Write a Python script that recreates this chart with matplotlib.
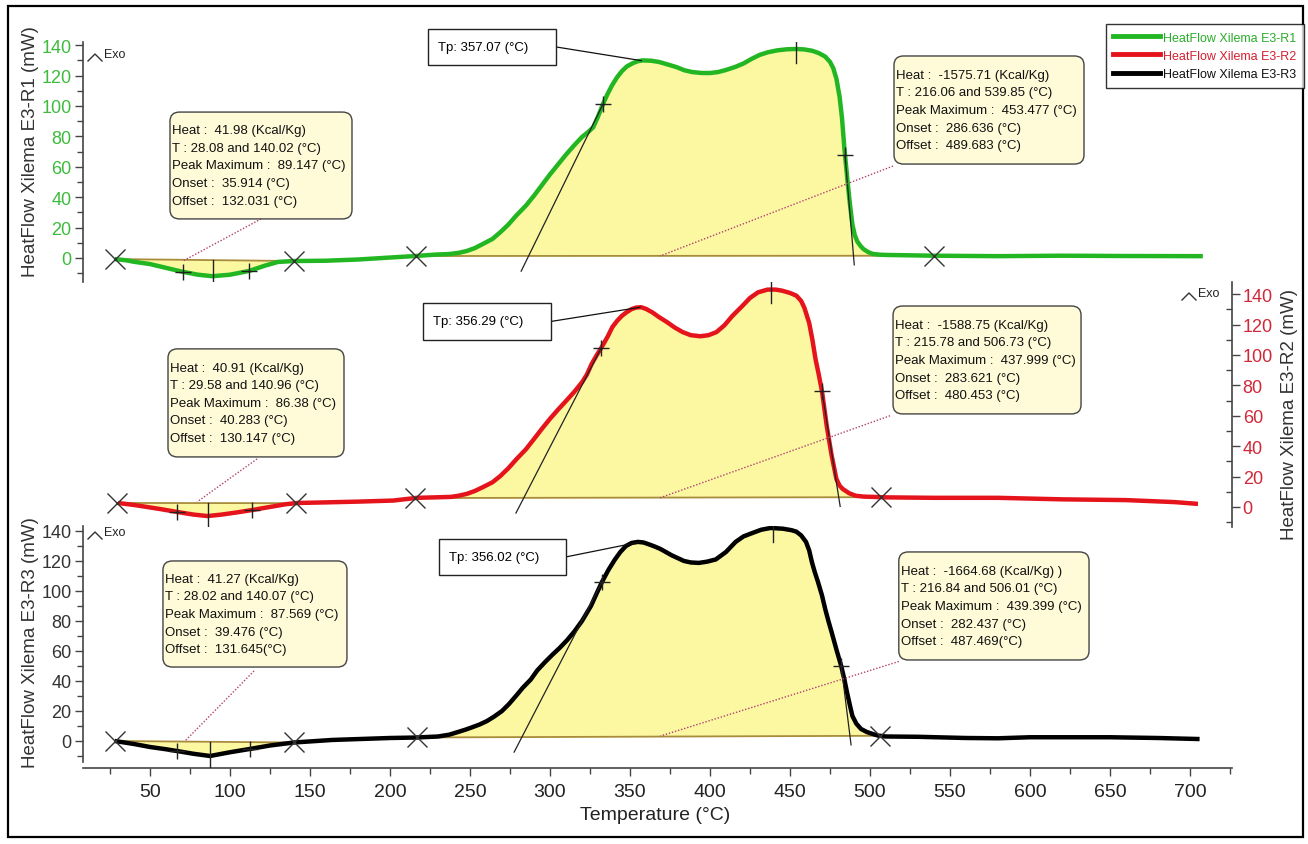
import numpy as np
import matplotlib
matplotlib.use('Agg')
import matplotlib.pyplot as plt
from matplotlib.patches import FancyBboxPatch, Rectangle
from matplotlib.lines import Line2D
from matplotlib.ticker import MultipleLocator

plt.rcParams['font.family'] = ['Liberation Sans Narrow', 'Liberation Sans', 'DejaVu Sans']

# heat flow curves (Temperature in C, HeatFlow in mW)
temp_r1 = [28, 35, 40, 50, 60, 70, 80, 89, 100, 112,
           122, 130, 140, 160, 180, 200, 216, 228, 237, 243,
           248, 253, 258, 264, 269, 274, 279, 285, 290, 295,
           300, 305, 310, 315, 320, 324, 327, 330, 333, 336,
           339, 342, 345, 348, 352, 355, 358, 363, 368, 373,
           379, 384, 389, 395, 400, 405, 410, 416, 421, 426,
           431, 436, 442, 448, 454, 459, 464, 468, 472, 475,
           477, 479, 481, 482.5, 484, 486, 487.5, 489, 490.5, 492,
           494, 496, 499, 502, 506, 510, 540, 580, 620, 660,
           708]
flow_r1 = [-0.7, -1.5, -2.5, -4, -6.5, -9, -11, -12, -11, -8.5,
           -5, -2.6, -2, -1.8, -1, 0.3, 1.3, 2.2, 2.6, 3.4,
           4.6, 6.5, 9.2, 12.5, 17, 22, 28, 34.5, 41, 48,
           55, 61.5, 68, 74, 79.6, 83, 86, 93, 101, 108,
           114, 119, 123, 126, 128.3, 129.5, 130, 129.8, 129, 127.5,
           125.6, 123.5, 122.3, 121.7, 121.7, 122.3, 123.7, 125.8, 128, 131,
           133.6, 135.3, 136.6, 137.3, 137.5, 137.2, 136.3, 134.8, 132.5, 129,
           125, 118, 106, 92, 72, 50, 35, 22, 15, 11,
           8, 5.8, 3.8, 2.6, 2.2, 2.0, 1.5, 1.2, 1.5, 1.3,
           1.2]

temp_r2 = [30, 40, 48, 57, 67, 77, 86, 95, 105, 114,
           125, 135, 142, 160, 180, 202, 217, 228, 238, 243,
           248, 253, 258, 264, 269, 274, 279, 285, 290, 295,
           300, 305, 310, 315, 320, 323, 326, 329, 332, 336,
           339, 342, 345, 348, 351, 354, 357, 360, 364, 368,
           373, 378, 383, 388, 394, 399, 404, 409, 414, 420,
           425, 430, 436, 441, 445, 450, 454, 457, 459, 462,
           464, 466, 468, 470, 473, 476, 479, 481, 483, 487,
           491, 496, 502, 510, 540, 580, 620, 660, 690, 705]
flow_r2 = [2.6, 1.3, 0, -1.5, -3.3, -5, -6, -5, -3.5, -2,
           0, 1.8, 2.6, 3, 3.5, 4.2, 6, 6.3, 6.6, 7.4,
           8.6, 10.5, 13, 16.2, 20.4, 25.5, 31.4, 38, 44.7, 51.5,
           58, 64, 69.7, 75.5, 82, 87, 94, 99.5, 104.6, 112,
           118.4, 122.5, 125.8, 128.2, 130.2, 131.2, 131.4, 130.3, 128, 125,
           121.7, 118, 115, 113, 112.3, 113, 115, 119.5, 125.7, 132,
           137.5, 141.2, 143, 143, 142.3, 140.8, 139, 135.5, 131, 121,
           110, 97, 87, 76, 53, 34, 18.4, 14, 11.8, 9,
           7.4, 6.8, 6.6, 6.3, 6, 6, 5, 4.5, 3.2, 2]

temp_r3 = [28, 40, 50, 60, 67, 77, 87.5, 100, 112.5, 125,
           140, 164, 200, 216, 230, 237, 242.5, 247, 251, 256,
           260.6, 265, 270, 274.5, 278.7, 283, 288, 292, 297, 301.5,
           306, 310.5, 315, 320, 325.6, 329, 332.5, 336.5, 340.6, 344,
           347.5, 351, 355, 358.5, 362, 365.5, 369, 376, 383.7, 388,
           393, 398, 403.6, 410, 416, 421, 427.4, 432, 438, 445.6,
           451, 454, 457, 460, 462, 463.75, 465.5, 467.5, 470, 472,
           474, 476, 479, 482, 484, 485.6, 487.5, 489, 491.5, 494.4,
           498, 501.6, 505, 510, 530, 560, 580, 600, 650, 680,
           706]
flow_r3 = [0, -2, -4, -5.5, -6.7, -8.5, -10, -7.5, -5.3, -3,
           -1, 0.7, 2, 2.3, 3, 4.2, 6, 7.5, 9, 11,
           13.3, 16.2, 20, 24.8, 30, 35.5, 41, 47, 52.7, 57.5,
           62, 67, 72.7, 80, 90, 98, 106, 114, 121, 126,
           130, 132, 132.7, 132.3, 131, 129.6, 128, 123.8, 120, 119,
           118.7, 119.5, 121, 126, 132.7, 136.4, 139, 140.8, 142, 141.5,
           140.5, 139.5, 137, 132.7, 127, 119, 112.5, 106, 97, 88,
           80, 72.6, 61, 50, 41, 32.6, 23.5, 16.7, 11.5, 8,
           6, 4.7, 3.6, 3, 2.8, 2, 1.8, 2.5, 2.5, 2,
           1.3]

run_names = ['HeatFlow Xilema E3-R1', 'HeatFlow Xilema E3-R2', 'HeatFlow Xilema E3-R3']

# peak integration results per run
heat_small = [41.98, 40.91, 41.27]
limits_small = [(28.08, 140.02), (29.58, 140.96), (28.02, 140.07)]
peak_small = [89.147, 86.38, 87.569]
onset_small = [35.914, 40.283, 39.476]
offset_small = [132.031, 130.147, 131.645]
infl_small = [(70.6, 112.0), (67.0, 114.0), (67.0, 112.5)]

heat_big = [-1575.71, -1588.75, -1664.68]
limits_big = [(216.06, 539.85), (215.78, 506.73), (216.84, 506.01)]
peak_big = [453.477, 437.999, 439.399]
onset_big = [286.636, 283.621, 282.437]
offset_big = [489.683, 480.453, 487.469]
infl_big = [(333.0, 484.4), (332.0, 470.0), (332.5, 482.0)]
tp_big = [357.07, 356.29, 356.02]

GREEN = '#22b722'
RED = '#e5141c'
BLACK = '#000000'
FILL = '#fcf8a2'
BASE = '#a88c3c'
NOTE = '#b04070'
W, H = 1308, 845

fig = plt.figure(figsize=(W / 100, H / 100), dpi=100)


def px_axes(left, top, right, bottom):
    ax = fig.add_axes([left / W, 1 - bottom / H, (right - left) / W, (bottom - top) / H])
    ax.set_facecolor('none')
    for s in ax.spines.values():
        s.set_visible(False)
    ax.set_xlim(8, 726)
    return ax


def style_y(ax, labelcolor, right=False):
    ax.yaxis.set_major_locator(MultipleLocator(20))
    ax.yaxis.set_minor_locator(MultipleLocator(10))
    side = 'right' if right else 'left'
    ax.spines[side].set_visible(True)
    ax.spines[side].set_color('#444444')
    ax.spines[side].set_linewidth(1.2)
    if right:
        ax.yaxis.tick_right()
    ax.tick_params(axis='y', which='major', length=6, width=1, color='#444444',
                   labelcolor=labelcolor, labelsize=13, pad=2)
    ax.tick_params(axis='y', which='minor', length=4, width=1, color='#444444',
                   direction='in' if right else 'out')
    ax.tick_params(axis='x', which='both', bottom=False, labelbottom=False)


def note_box(ax, x0, y0, x1, y1, lines, src, dst):
    box = FancyBboxPatch((x0, y0), x1 - x0, y1 - y0, boxstyle='round,pad=0,rounding_size=6',
                         fc='#fffbd8', ec='#444444', lw=1, clip_on=False, zorder=6)
    ax.add_patch(box)
    ax.text(x0 + 1.5, (y0 + y1) / 2, '\n'.join(lines), ha='left', va='center', fontsize=9.5,
            linespacing=1.62, color='#111111', zorder=7, clip_on=False)
    ax.plot([src[0], dst[0]], [src[1], dst[1]], color=NOTE, lw=1, ls=(0, (1, 1.3)), zorder=4,
            clip_on=False)


def tp_box(ax, x0, y0, x1, y1, tp, temp, flow):
    ax.add_patch(Rectangle((x0, y0), x1 - x0, y1 - y0, fc='white', ec='#222222', lw=1,
                           clip_on=False, zorder=6))
    ax.text(x0 + 6, (y0 + y1) / 2, f'Tp: {tp} (°C)', ha='left', va='center', fontsize=9.5,
            zorder=7, clip_on=False)
    ax.plot([x1, tp], [(y0 + y1) / 2, np.interp(tp, temp, flow)], color='#111111', lw=0.9,
            zorder=4, clip_on=False)


def integrate(ax, temp, flow, t1, t2):
    temp = np.asarray(temp, float)
    flow = np.asarray(flow, float)
    f1, f2 = np.interp([t1, t2], temp, flow)

    def base(t):
        return f1 + (f2 - f1) * (np.asarray(t) - t1) / (t2 - t1)

    inside = (temp > t1) & (temp < t2)
    tt = np.concatenate([[t1], temp[inside], [t2]])
    ff = np.concatenate([[f1], flow[inside], [f2]])
    ax.fill_between(tt, ff, base(tt), color=FILL, lw=0, zorder=1)
    ax.plot([t1, t2], [f1, f2], color=BASE, lw=1.3, zorder=2)
    ax.plot([t1, t2], [f1, f2], 'x', ms=15, mew=1, color='#333333', zorder=5)
    return base


def draw_run(ax, i, temp, flow, color):
    # small endothermic peak
    base = integrate(ax, temp, flow, *limits_small[i])
    tp = peak_small[i]
    ax.plot([tp, tp], [base(tp), np.interp(tp, temp, flow) - 8], color='#222222', lw=1, zorder=5)
    ti = np.array(infl_small[i])
    ax.plot(ti, np.interp(ti, temp, flow), '+', ms=12, mew=1, color='#222222', zorder=5)

    # main exothermic peak
    base = integrate(ax, temp, flow, *limits_big[i])
    tp = peak_big[i]
    fp = np.interp(tp, temp, flow)
    ax.plot([tp, tp], [fp + 9, fp - 9], color='#222222', lw=1, zorder=5)
    ti = np.array(infl_big[i])
    fi = np.interp(ti, temp, flow)
    ax.plot(ti, fi, '+', ms=12, mew=1, color='#222222', zorder=5)

    # tangents through the inflection points
    on, b_on = onset_big[i], base(onset_big[i])
    t_low = on - 10 / (fi[0] - b_on) * (ti[0] - on)
    ax.plot([t_low, ti[0]], [b_on - 10, fi[0]], color='#222222', lw=0.9, zorder=4)
    off, b_off = offset_big[i], base(offset_big[i])
    t_low = off - 6 / (fi[1] - b_off) * (ti[1] - off)
    ax.plot([ti[1], t_low], [fi[1], b_off - 6], color='#222222', lw=0.9, zorder=4)

    ax.plot(temp, flow, color=color, lw=3.2, zorder=3, solid_capstyle='butt',
            solid_joinstyle='round')


def small_lines(i, sep=' '):
    t1, t2 = limits_small[i]
    return [f'Heat :  {heat_small[i]} (Kcal/Kg)',
            f'T : {t1} and {t2} (°C)',
            f'Peak Maximum :  {peak_small[i]} (°C)',
            f'Onset :  {onset_small[i]} (°C)',
            f'Offset :  {offset_small[i]}{sep}(°C)']


def big_lines(i, sep=' ', tail=''):
    t1, t2 = limits_big[i]
    return [f'Heat :  {heat_big[i]} (Kcal/Kg){tail}',
            f'T : {t1} and {t2} (°C)',
            f'Peak Maximum :  {peak_big[i]} (°C)',
            f'Onset :  {onset_big[i]} (°C)',
            f'Offset :  {offset_big[i]}{sep}(°C)']


ax1 = px_axes(82.8, 43, 1231.6, 283)
ax1.set_ylim(-15.8, 142.1)
ax2 = px_axes(82.8, 283, 1231.6, 528)
ax2.set_ylim(-13.2, 148)
ax3 = px_axes(82.8, 527, 1231.6, 769)
ax3.set_ylim(-18, 143.3)

style_y(ax1, '#3dbb3d')
style_y(ax2, '#d02838', right=True)
style_y(ax3, '#333333')
ax3.spines['left'].set_bounds(-14, 143.3)

# temperature axis on the lowest panel
ax3.spines['bottom'].set_visible(True)
ax3.spines['bottom'].set_color('#444444')
ax3.spines['bottom'].set_linewidth(1.2)
ax3.xaxis.set_major_locator(MultipleLocator(50))
ax3.xaxis.set_minor_locator(MultipleLocator(25))
ax3.tick_params(axis='x', which='major', bottom=True, labelbottom=True, length=6, width=1,
                color='#444444', labelcolor='#222222', labelsize=14, pad=5)
ax3.tick_params(axis='x', which='minor', bottom=True, length=4, width=1, color='#444444')

draw_run(ax1, 0, temp_r1, flow_r1, GREEN)
draw_run(ax2, 1, temp_r2, flow_r2, RED)
draw_run(ax3, 2, temp_r3, flow_r3, BLACK)

note_box(ax1, 62.5, 25.7, 176.25, 96, small_lines(0), (119.4, 25.7), (70.6, -2))
note_box(ax1, 515, 61.8, 633.75, 132.9, big_lines(0), (514.4, 60.5), (368.75, 1.3))
tp_box(ax1, 223.75, 127, 303.75, 150.7, tp_big[0], temp_r1, flow_r1)

note_box(ax2, 61.25, 32.9, 171.25, 104, small_lines(1), (116.9, 31.6), (79.4, 3.3))
note_box(ax2, 514.4, 61.2, 631.9, 132.2, big_lines(1), (512.5, 60), (368.75, 6))
tp_box(ax2, 220.6, 109.9, 300.6, 134.2, tp_big[1], temp_r2, flow_r2)

note_box(ax3, 58.1, 49.3, 173.1, 120, small_lines(2, sep=''), (115, 46.7), (71.9, 0))
note_box(ax3, 518, 54, 636.9, 126, big_lines(2, sep='', tail=' )'), (518, 53), (369, 3.3))
tp_box(ax3, 230.6, 110.7, 310, 134.7, tp_big[2], temp_r3, flow_r3)

# axis titles
fig.text(31 / W, 1 - 152 / H, run_names[0] + ' (mW)', rotation=90, ha='center', va='center',
         fontsize=13.5, color='#333333', family=['Liberation Sans', 'DejaVu Sans'])
fig.text(1289 / W, 1 - 415 / H, run_names[1] + ' (mW)', rotation=90, ha='center', va='center',
         fontsize=13.5, color='#333333', family=['Liberation Sans', 'DejaVu Sans'])
fig.text(31 / W, 1 - 643 / H, run_names[2] + ' (mW)', rotation=90, ha='center', va='center',
         fontsize=13.5, color='#333333', family=['Liberation Sans', 'DejaVu Sans'])
fig.text(655 / W, 1 - 816 / H, 'Temperature (°C)', ha='center', va='center', fontsize=14,
         color='#222222')

# exotherm direction marks: a small chevron followed by "Exo"
for x, y in [(88, 55), (1182, 294), (88, 533)]:
    fig.add_artist(Line2D([x / W, (x + 7) / W, (x + 14) / W],
                          [1 - (y + 7) / H, 1 - y / H, 1 - (y + 7) / H],
                          transform=fig.transFigure, color='#333333', lw=1))
    fig.text((x + 16) / W, 1 - y / H, 'Exo', ha='left', va='center', fontsize=9,
             color='#222222')

handles = [Line2D([], [], color=c, lw=3.5) for c in (GREEN, RED, BLACK)]
leg = fig.legend(handles, run_names, loc='upper right', bbox_to_anchor=(1304 / W, 1 - 25 / H),
                 frameon=True, fancybox=False, edgecolor='black', borderaxespad=0,
                 handlelength=3.7, handletextpad=0.3, labelspacing=0.5, fontsize=9,
                 borderpad=0.6)
leg.get_frame().set_linewidth(1)
for txt, c in zip(leg.get_texts(), ('#2aad2a', '#d42030', '#111111')):
    txt.set_color(c)

fig.add_artist(Rectangle((8 / W, 1 - 838 / H), 1295 / W, 831 / H, transform=fig.transFigure,
                         fill=False, ec='black', lw=1.6))

fig.savefig('out.png', dpi=100)
